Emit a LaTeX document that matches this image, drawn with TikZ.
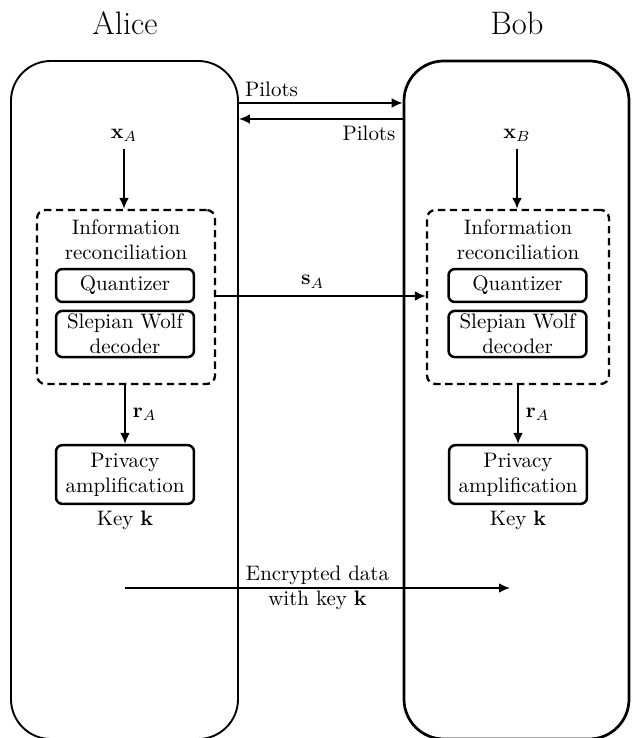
\documentclass[tikz,border=0pt]{standalone}
\usetikzlibrary{arrows.meta,fit}
\begin{document}
\begin{tikzpicture}[x=0.477pt,y=-0.477pt,
  party/.style={draw,line width=0.9pt,rounded corners=19pt,inner sep=0pt},
  irbox/.style={draw,line width=1.1pt,dash pattern=on 3.5pt off 2.2pt,rounded corners=4pt,inner sep=0pt},
  blk/.style={draw,line width=1.2pt,rounded corners=3pt,align=center,minimum width=65.8pt,inner sep=1pt},
  arr/.style={line width=0.9pt,-{Latex[length=5.2pt,width=4.6pt]}},
  lbl/.style={align=center},
  ttl/.style={font=\fontsize{15.5}{18}\selectfont}]
\useasboundingbox (0,0) rectangle (631,738);

% parties
\node[party,fit={(11,61) (238,739)}] (alice) {};
\node[party,line width=1.3pt,fit={(404,61) (629,739)}] (bob) {};
\node[ttl] (talice) at (125,23) {Alice};
\node[ttl] (tbob) at (517,23) {Bob};

% pilots
\coordinate (p1) at (0,103);
\coordinate (p2) at (0,119);
\draw[arr] (alice.east |- p1) -- (bob.west |- p1)
  node[pos=0,anchor=south west,inner sep=2.5pt] (pl1) {Pilots};
\draw[arr] (bob.west |- p2) -- (alice.east |- p2)
  node[pos=0,anchor=north east,inner sep=3pt] (pl2) {Pilots};

% Alice side
\node (xa) at (124,135) {$\mathbf{x}_A$};
\node[irbox,fit={(37,210) (215,384)}] (ira) {};
\node[lbl] (infoa) at (126,240) {Information\\reconciliation};
\node[blk,minimum height=15.7pt] (qa) at (125,285.5) {Quantizer};
\node[blk,minimum height=22pt] (swa) at (125,334) {Slepian Wolf\\decoder};
\node[blk,minimum height=28pt] (pa) at (125,474.5) {Privacy\\amplification};
\node (ka) at (125,520) {Key $\mathbf{k}$};
\draw[arr] (xa.south) -- (xa.south |- ira.north);
\draw[arr] (ira.south -| pa) -- (pa.north) node[midway,right] (raa) {$\mathbf{r}_A$};

% Bob side
\node (xb) at (517,135) {$\mathbf{x}_B$};
\node[irbox,fit={(427,210) (609,384)}] (irb) {};
\node[lbl] (infob) at (518,240) {Information\\reconciliation};
\node[blk,minimum height=15.7pt] (qb) at (517.5,285.5) {Quantizer};
\node[blk,minimum height=22pt] (swb) at (517.5,334) {Slepian Wolf\\decoder};
\node[blk,minimum height=28pt] (pb) at (518,474.5) {Privacy\\amplification};
\node (kb) at (518,520) {Key $\mathbf{k}$};
\draw[arr] (xb.south) -- (xb.south |- irb.north);
\draw[arr] (irb.south -| pb) -- (pb.north) node[midway,right] (rab) {$\mathbf{r}_A$};

% s_A
\coordinate (s) at (0,296);
\draw[arr] (ira.east |- s) -- (irb.west |- s) node[pos=0.46,above] (sa) {$\mathbf{s}_A$};

% encrypted data
\coordinate (e1) at (125,588);
\coordinate (e2) at (510,588);
\draw[arr] (e1) -- (e2) node[pos=0.5,lbl] (enc) {Encrypted data\\with key $\mathbf{k}$};
\end{tikzpicture}
\end{document}
